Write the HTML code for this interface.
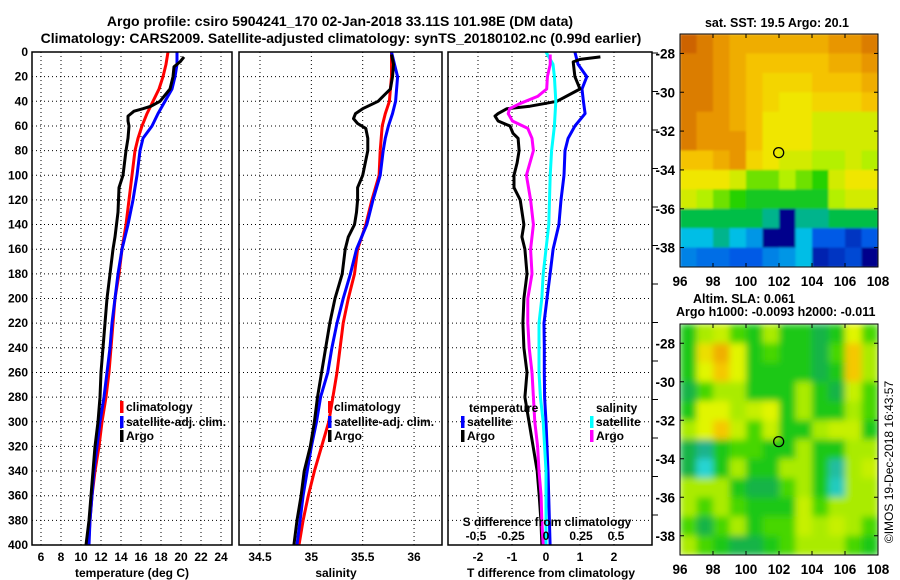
<!DOCTYPE html>
<html><head><meta charset="utf-8"><style>
html,body{margin:0;padding:0;background:#fff;}
svg{display:block;font-family:"Liberation Sans",Arial,sans-serif;}
</style></head><body>
<svg id="chart" width="900" height="580" viewBox="0 0 900 580" xmlns="http://www.w3.org/2000/svg">
<defs>
<filter id="blurSla" x="-5%" y="-5%" width="110%" height="110%"><feGaussianBlur stdDeviation="3.5" edgeMode="duplicate"/></filter>
<filter id="blurSst" x="-5%" y="-5%" width="110%" height="110%"><feGaussianBlur stdDeviation="1" edgeMode="duplicate"/></filter>
</defs>
<text x="340" y="26" text-anchor="middle" font-size="14" font-weight="bold">Argo profile: csiro 5904241_170 02-Jan-2018 33.11S 101.98E (DM data)</text>
<text x="341" y="43" text-anchor="middle" font-size="14" font-weight="bold">Climatology: CARS2009. Satellite-adjusted climatology: synTS_20180102.nc (0.99d earlier)</text>
<g id="plots"></g>
<text x="777" y="27" text-anchor="middle" font-size="12.5" font-weight="bold">sat. SST: 19.5 Argo: 20.1</text>
<text x="693" y="303" font-size="12.5" font-weight="bold">Altim. SLA: 0.061</text>
<text x="676" y="316" font-size="12.5" font-weight="bold">Argo h1000: -0.0093 h2000: -0.011</text>
<text transform="translate(893,462) rotate(-90)" text-anchor="middle" font-size="12">©IMOS 19-Dec-2018 16:43:57</text>
</svg>
<script>
// ---------- data ----------
const depthGrid = [0,10,20,30,40,50,60,70,80,100,120,140,160,180,200,220,240,260,280,300,320,340,360,380,400];
const tempClim = [18.7,18.5,18.2,17.8,17.2,16.6,16.1,15.7,15.4,15.1,14.8,14.5,14.1,13.8,13.4,13.2,13.0,12.8,12.5,12.1,11.8,11.4,11.1,10.9,10.75];
const tempSat = [19.6,19.6,19.4,19.1,18.4,17.7,17.1,16.2,15.9,15.6,15.2,14.7,14.1,13.7,13.4,13.1,12.9,12.6,12.3,11.9,11.6,11.3,11.1,10.9,10.8];
const argoTempDepth = [4,8,12,20,30,40,44,46,48,52,56,60,70,80,100,110,130,150,160,180,200,220,240,260,280,300,320,340,360,380,400];
const argoTemp = [20.3,19.9,19.3,19.2,18.9,17.9,17.0,16.2,15.3,14.7,14.7,14.8,14.7,14.5,14.2,13.8,13.7,13.4,13.2,12.9,12.6,12.4,12.2,12.0,11.9,11.7,11.4,11.2,11.0,10.8,10.5];
const salClim = [35.78,35.78,35.78,35.77,35.76,35.72,35.69,35.68,35.67,35.66,35.59,35.53,35.45,35.42,35.36,35.31,35.28,35.25,35.21,35.17,35.10,35.03,34.97,34.92,34.88];
const salSat = [35.78,35.81,35.84,35.83,35.82,35.79,35.75,35.72,35.70,35.67,35.60,35.54,35.44,35.38,35.31,35.25,35.20,35.16,35.09,35.05,35.00,34.96,34.92,34.89,34.86];
const argoSalDepth = [2,10,20,30,40,46,50,54,58,62,70,80,100,110,120,130,140,150,160,180,200,220,240,260,280,300,320,340,360,380,400];
const argoSal = [35.78,35.80,35.79,35.77,35.65,35.50,35.43,35.41,35.45,35.53,35.55,35.55,35.50,35.45,35.45,35.44,35.42,35.36,35.33,35.30,35.23,35.18,35.14,35.10,35.06,35.03,34.99,34.93,34.90,34.86,34.83];
const tDiffSat = [0.85,0.94,1.2,1.06,1.1,1.15,0.85,0.65,0.56,0.53,0.44,0.38,0.21,0.12,0.03,-0.06,-0.05,-0.05,-0.04,0,0.03,0.06,0.08,0.1,0.12];
const sDiffSat = [0.0,0.05,0.06,0.065,0.07,0.065,0.06,0.05,0.04,0.03,0.025,0.02,0,-0.02,-0.03,-0.05,-0.05,-0.05,-0.04,-0.02,-0.01,0,0,0,0];
const argoTDiffDepth = [4,6,8,20,30,40,44,46,50,52,56,60,66,70,80,90,100,110,120,140,150,160,180,200,220,240,260,280,300,320,340,360,380,400];
const argoTDiff = [1.6,1.0,0.8,0.85,1.0,0.32,-0.47,-1.15,-1.41,-1.5,-1.41,-1.06,-0.97,-0.82,-0.79,-0.85,-0.94,-0.94,-0.76,-0.65,-0.71,-0.62,-0.56,-0.65,-0.68,-0.65,-0.56,-0.62,-0.5,-0.38,-0.26,-0.2,-0.15,-0.12];
const argoSDiffDepth = [2,10,20,30,36,42,46,50,56,62,70,80,100,120,140,160,180,200,220,240,260,280,300,320,340,360,380,400];
const argoSDiff = [0.03,0.03,0.01,0.005,-0.06,-0.19,-0.26,-0.27,-0.24,-0.13,-0.10,-0.09,-0.14,-0.11,-0.09,-0.11,-0.10,-0.13,-0.13,-0.12,-0.10,-0.09,-0.08,-0.06,-0.05,-0.035,-0.03,-0.02];
const depthTicks = [0,20,40,60,80,100,120,140,160,180,200,220,240,260,280,300,320,340,360,380,400];
const tempTicks = [6,8,10,12,14,16,18,20,22,24];
const salTicks = [34.5,35,35.5,36];
const salTickLabels = ["34.5","35","35.5","36"];
const tdTicks = [-2,-1,0,1,2];
const sdTicks = [-0.5,-0.25,0,0.25,0.5];
const sdTickLabels = ["-0.5","-0.25","0","0.25","0.5"];
const lonTicks = [96,98,100,102,104,106,108];
const latTicks = [-28,-30,-32,-34,-36,-38];
const sstGrid = [
[8,7.5,7,6.5,6.5,6.5,6.5,6.5,6.5,7,7,7.5],
[7.5,7.5,7,6.5,6,6,6,6,6,6.5,6.5,7],
[7.5,7.5,7,6.5,6,5.5,5.5,5.5,6,6,6,6.5],
[7.5,7.5,7,6.5,6,5.5,5,5,5.5,5.5,5.5,6],
[7.5,7,7,6.5,6,5,5,5,4.5,4.5,4.5,4.5],
[7.5,7,7,7,6,5,5,5,4.5,4.5,4.5,4.5],
[6,6,6.5,7,5.5,5,4.5,4.5,4,4,4.5,4],
[5,5,5,4.5,3.5,3.5,4,3.5,3,4.5,5,5],
[4.5,4,3.5,3,2.5,2.5,2.5,2.5,2.5,4,4.5,4.5],
[2,2,2,2,2,1.5,0,1.5,1.5,2,2,2],
[1,1,1.5,1,0.8,0,0,1,0.5,0.5,0.3,0.5],
[0.7,0.6,0.6,0.5,0.5,0.7,0.8,1,0.2,0.3,0.4,0]];
const slaGrid = [
[2,3,3.5,2.5,2,3,2,2,1.5,2,4,2.5],
[2,4.5,5.5,4,2,2.5,2,2,1.5,2.5,5,3],
[2,4,5,4,2,2,2,2,1.5,2,5,3],
[1.5,2.5,3,3,2,2,2,3,2,1.5,3.5,2.5],
[2,4,4,3,3.5,4,2,3,2,2,3,2.5],
[3,4,5,3.5,2.5,3.5,2,2,3,3.5,3.5,2],
[1.5,1,2,2.5,2.5,2,2,3,2,2,3,3],
[1.5,0.3,2,3,2,2,3,3,2,0.8,3,3.5],
[3,3,3,2,1.5,1.5,2.5,3,2,0.5,3,3],
[3,2.5,3,2.5,2,2,2,3.5,2.5,3,3,3],
[2.5,1.5,2.5,3,2,2.5,2.5,3.5,3,3.5,3,2.5],
[3,2.5,2,1.5,1.5,2,2.5,3,3,3,2.5,2]];
const floatLon = 101.98, floatLat = -33.11;

// ---------- helpers ----------
const NS = "http://www.w3.org/2000/svg";
const root = document.getElementById('plots');
function mk(tag, attrs, parent){ const e=document.createElementNS(NS,tag); for(const k in attrs) e.setAttribute(k,attrs[k]); (parent||root).appendChild(e); return e; }
const TOP=52, BOT=545;
const yD = d => TOP + d*(BOT-TOP)/400;

const panels = [
 {name:'temperature', x0:32, x1:232, sx:v=>41+(v-6)*10, grid:[6,8,10,12,14,16,18,20,22,24]},
 {name:'salinity', x0:239, x1:442, sx:v=>260+(v-34.5)*102.7, grid:[34.5,35,35.5,36]},
 {name:'difference', x0:448, x1:652, sx:v=>546+v*34, grid:[-2,-1,0,1,2]}
];
const sxS = v=>546+v*140;

panels.forEach((p,i)=>{
  const g = mk('g',{});
  
  
  const cp = mk('clipPath',{id:'clip'+i},g);
  mk('rect',{x:p.x0,y:TOP,width:p.x1-p.x0,height:BOT-TOP},cp);
  p.g=g;
  p.grid.forEach(v=>{
    const l=mk('line',{x1:p.sx(v),x2:p.sx(v),y1:TOP,y2:BOT,stroke:'#000','stroke-width':1,'stroke-dasharray':'1,3'},g);
    
    
  });
  depthTicks.forEach(d=>{
    const l=mk('line',{x1:p.x0,x2:p.x1,y1:yD(d),y2:yD(d),stroke:'#000','stroke-width':1,'stroke-dasharray':'1,3'},g);
    
    
  });
});

function curve(p, depths, vals, color, name, sx){
  const f = sx || p.sx;
  const pts = depths.map((d,k)=>f(vals[k]).toFixed(1)+','+yD(d).toFixed(1)).join(' ');
  const pl = mk('polyline',{points:pts,fill:'none',stroke:color,'stroke-width':3,'stroke-linejoin':'round','clip-path':'url(#clip'+panels.indexOf(p)+')'},p.g);
  
  
}
curve(panels[0], depthGrid, tempClim, '#ff0000', 'temperature-climatology-line');
curve(panels[0], depthGrid, tempSat, '#0000ff', 'temperature-satellite-line');
curve(panels[0], argoTempDepth, argoTemp, '#000000', 'temperature-argo-line');
curve(panels[1], depthGrid, salClim, '#ff0000', 'salinity-climatology-line');
curve(panels[1], depthGrid, salSat, '#0000ff', 'salinity-satellite-line');
curve(panels[1], argoSalDepth, argoSal, '#000000', 'salinity-argo-line');
curve(panels[2], depthGrid, tDiffSat, '#0000ff', 'tdiff-satellite-line');
curve(panels[2], argoTDiffDepth, argoTDiff, '#000000', 'tdiff-argo-line');
curve(panels[2], depthGrid, sDiffSat, '#00ffff', 'sdiff-satellite-line', sxS);
curve(panels[2], argoSDiffDepth, argoSDiff, '#ff00ff', 'sdiff-argo-line', sxS);

panels.forEach(p=>{
  const r=mk('rect',{x:p.x0,y:TOP,width:p.x1-p.x0,height:BOT-TOP,fill:'none',stroke:'#000','stroke-width':1.5},p.g);
  
  
});

function txt(s,x,y,opts,name){
  const t=mk('text',Object.assign({x:x,y:y,'font-size':12,'font-weight':'bold'},opts||{}));
  t.textContent=s;
  
  
  return t;
}
depthTicks.forEach(d=>txt(String(d),28,yD(d)+4,{'text-anchor':'end'},'depth-tick-label'));
tempTicks.forEach(v=>txt(String(v),panels[0].sx(v),561,{'text-anchor':'middle'},'temperature-tick-label'));
salTicks.forEach((v,k)=>txt(salTickLabels[k],panels[1].sx(v),561,{'text-anchor':'middle'},'salinity-tick-label'));
tdTicks.forEach(v=>txt(String(v),panels[2].sx(v),561,{'text-anchor':'middle'},'tdiff-tick-label'));
sdTicks.forEach((v,k)=>txt(sdTickLabels[k],sxS(v),540,{'text-anchor':'middle'},'sdiff-tick-label'));
txt('temperature (deg C)',132,577,{'text-anchor':'middle'},'temperature-axis-title');
txt('salinity',336,577,{'text-anchor':'middle'},'salinity-axis-title');
txt('T difference from climatology',551,577,{'text-anchor':'middle'},'tdiff-axis-title');
txt('S difference from climatology',547,526,{'text-anchor':'middle'},'sdiff-axis-title');
for(let y=53;y<=546;y+=38.5){
  const l=mk('line',{x1:652,x2:658,y1:y,y2:y,stroke:'#000','stroke-width':1});
  
  
}
function legItem(bx,y,color,label,name){
  const r=mk('rect',{x:bx,y:y-6,width:3.5,height:12,fill:color});
  
  
  txt(label,bx+6,y+4,{},name+'-label');
}
[[407,'#ff0000','climatology'],[422,'#0000ff','satellite-adj. clim.'],[436,'#000','Argo']].forEach(a=>{
  legItem(120,a[0],a[1],a[2],'temp-legend');
  legItem(328,a[0],a[1],a[2],'sal-legend');
});
txt('temperature',469,412,{},'diff-legend-temperature-heading');
txt('salinity',596,412,{},'diff-legend-salinity-heading');
legItem(461,422,'#0000ff','satellite','diff-legend-t-sat');
legItem(461,436,'#000','Argo','diff-legend-t-argo');
legItem(590,422,'#00ffff','satellite','diff-legend-s-sat');
legItem(590,436,'#ff00ff','Argo','diff-legend-s-argo');

// ---------- maps ----------
function lerpStops(stops,v){
  if(v<=stops[0][0]) return stops[0][1];
  for(let i=1;i<stops.length;i++){
    if(v<=stops[i][0]){
      const a=stops[i-1],b=stops[i],t=(v-a[0])/(b[0]-a[0]);
      return a[1].map((x,k)=>Math.round(x+(b[1][k]-x)*t));
    }
  }
  return stops[stops.length-1][1];
}
const sstStops=[[0,[0,0,140]],[0.5,[0,90,230]],[1,[0,190,230]],[1.5,[0,180,140]],[2,[0,190,70]],[3,[40,210,0]],[4,[180,240,0]],[5,[240,230,0]],[6,[245,195,0]],[7,[232,150,0]],[8,[205,100,0]]];
const slaStops=[[0,[40,225,240]],[1,[30,180,140]],[1.5,[25,180,70]],[2,[30,200,20]],[2.5,[70,215,0]],[3,[170,235,0]],[4,[225,245,0]],[5,[245,200,0]],[6,[235,150,0]]];
let mapIdx=0;
function drawMap(gridVals, stops, x0,x1,y0,y1,name,filt){
  const g=mk('g',{});
  
  
  const cid='mapclip'+(mapIdx++);
  const cp=mk('clipPath',{id:cid},g);
  mk('rect',{x:x0,y:y0,width:x1-x0,height:y1-y0},cp);
  const outer=mk('g',{'clip-path':'url(#'+cid+')'},g);
  const cells=mk('g',{filter:'url(#'+filt+')'},outer);
  const sxL = lon=>x0+(lon-96)*(x1-x0)/12;
  const syL = lat=>y0+(-27-lat)*(y1-y0)/12;
  gridVals.forEach((row,r)=>row.forEach((v,c)=>{
    const col=lerpStops(stops,v);
    const cell=mk('rect',{x:sxL(96+c).toFixed(2),y:syL(-27-r).toFixed(2),width:((x1-x0)/12+0.6).toFixed(2),height:((y1-y0)/12+0.6).toFixed(2),fill:'rgb('+col.join(',')+')'},cells);
    
    
  }));
  const fr=mk('rect',{x:x0,y:y0,width:x1-x0,height:y1-y0,fill:'none',stroke:'#000','stroke-width':1},g);
  
  
  lonTicks.forEach(lon=>{
    mk('line',{x1:sxL(lon),x2:sxL(lon),y1:y1,y2:y1-4,stroke:'#000'},g);
    mk('line',{x1:sxL(lon),x2:sxL(lon),y1:y0,y2:y0+4,stroke:'#000'},g);
    txt(String(lon),sxL(lon),y1+19,{'text-anchor':'middle','font-size':13.5},'map-lon-tick-label');
  });
  latTicks.forEach(lat=>{
    mk('line',{x1:x0,x2:x0+4,y1:syL(lat),y2:syL(lat),stroke:'#000'},g);
    mk('line',{x1:x1,x2:x1-4,y1:syL(lat),y2:syL(lat),stroke:'#000'},g);
    txt(String(lat),x0-5,syL(lat)+5,{'text-anchor':'end','font-size':13.5},'map-lat-tick-label');
  });
  const m=mk('circle',{cx:sxL(floatLon),cy:syL(floatLat),r:5,fill:'none',stroke:'#000','stroke-width':1.3},g);
  
  
}
drawMap(sstGrid, sstStops, 680,878,34,267,'sst-map','blurSst');
drawMap(slaGrid, slaStops, 680,878,324,555,'sla-map','blurSla');
</script>
</body></html>
